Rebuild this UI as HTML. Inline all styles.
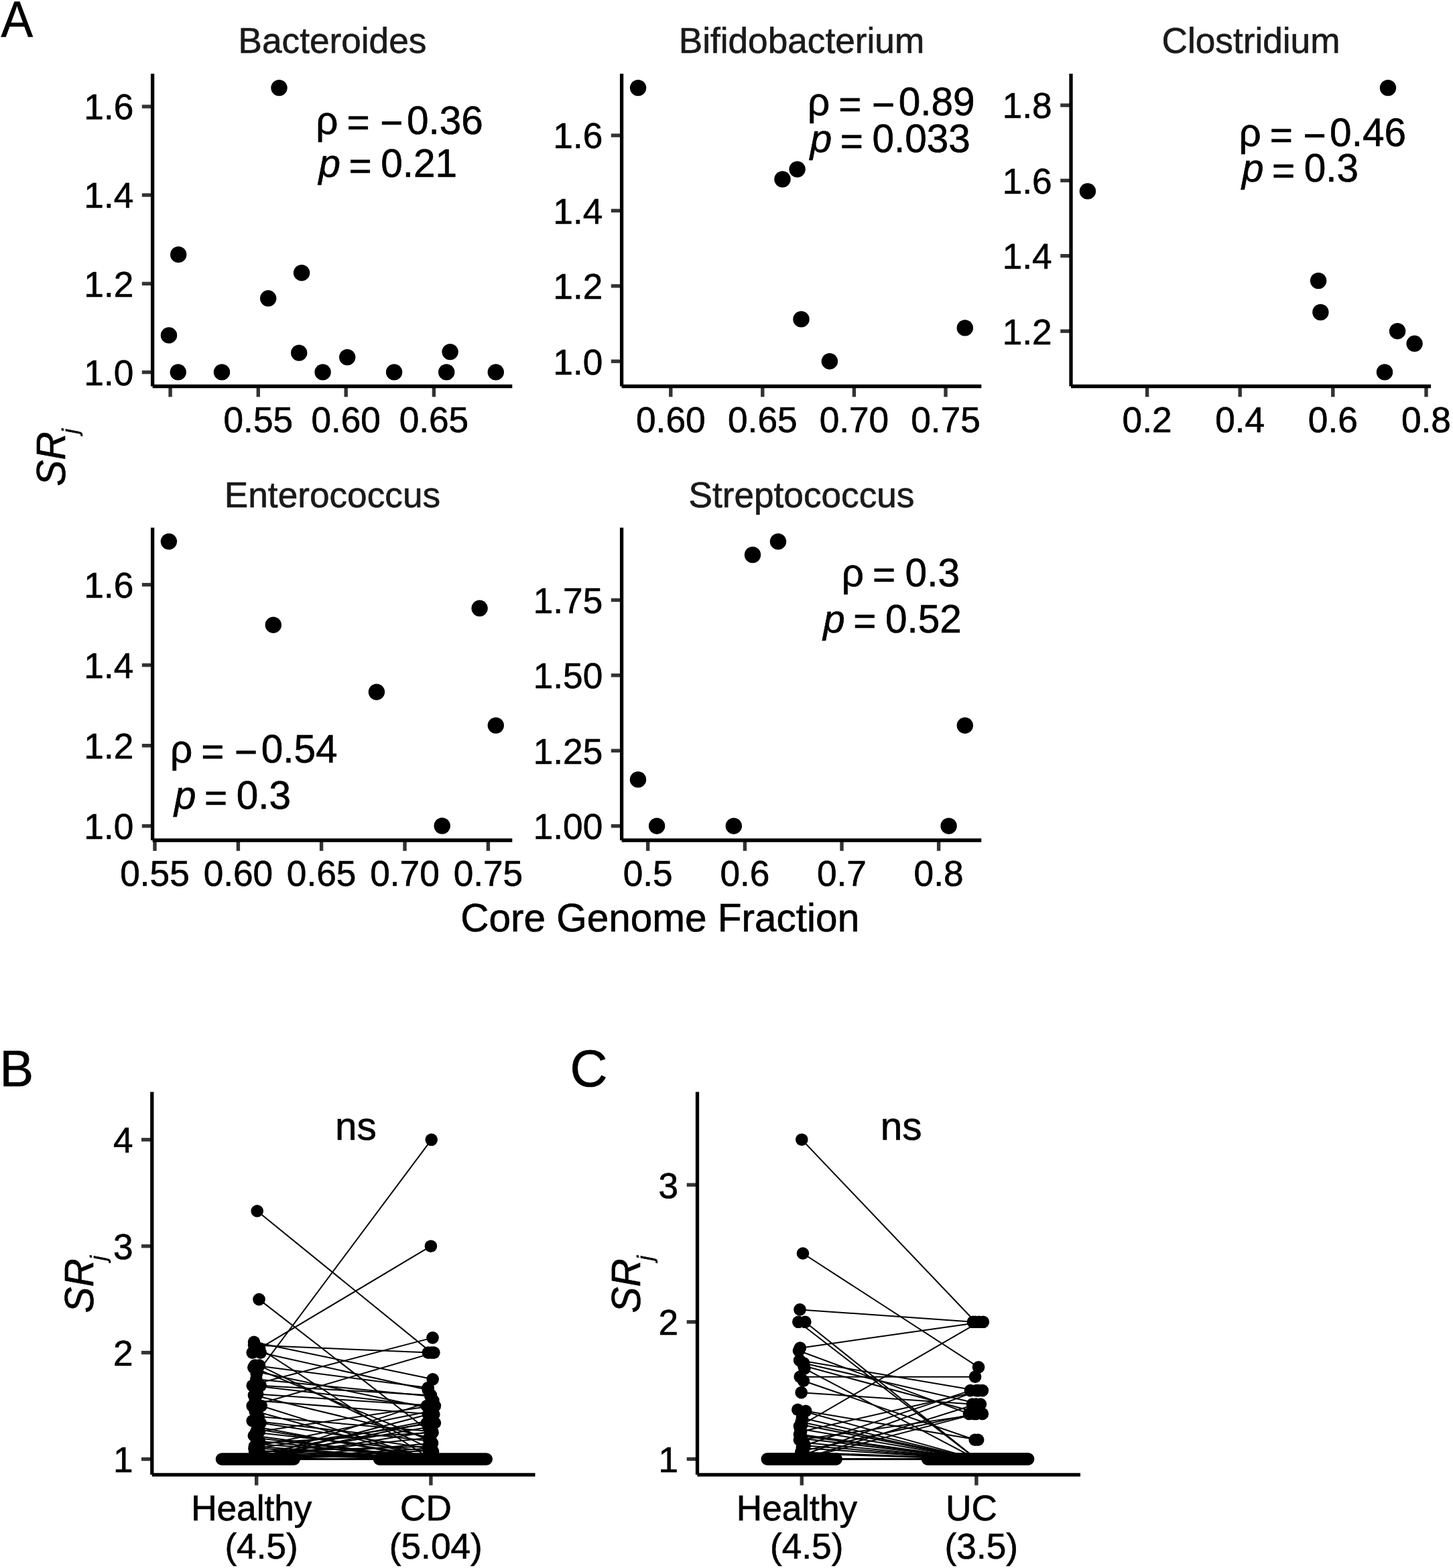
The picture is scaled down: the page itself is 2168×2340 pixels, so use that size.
<!DOCTYPE html>
<html><head><meta charset="utf-8"><title>Figure</title>
<style>
html,body{margin:0;padding:0;background:#fff;overflow:hidden;}
svg{display:block;}
text{font-family:"Liberation Sans", Arial, Helvetica, sans-serif;stroke-width:0.65px;}
</style></head>
<body>
<svg width="2168" height="2340" viewBox="0 0 2168 2340">
<rect width="2168" height="2340" fill="#fff"/>
<line x1="211.8" y1="555.5" x2="227.6" y2="555.5" stroke="#333333" stroke-width="5.4" stroke-linecap="butt"/>
<text x="199.3" y="574.8" font-size="53.2" text-anchor="end" fill="#000" stroke="#000">1.0</text>
<line x1="211.8" y1="423.3" x2="227.6" y2="423.3" stroke="#333333" stroke-width="5.4" stroke-linecap="butt"/>
<text x="199.3" y="442.6" font-size="53.2" text-anchor="end" fill="#000" stroke="#000">1.2</text>
<line x1="211.8" y1="291.1" x2="227.6" y2="291.1" stroke="#333333" stroke-width="5.4" stroke-linecap="butt"/>
<text x="199.3" y="310.4" font-size="53.2" text-anchor="end" fill="#000" stroke="#000">1.4</text>
<line x1="211.8" y1="159" x2="227.6" y2="159" stroke="#333333" stroke-width="5.4" stroke-linecap="butt"/>
<text x="199.3" y="178.3" font-size="53.2" text-anchor="end" fill="#000" stroke="#000">1.6</text>
<line x1="254.1" y1="576.5" x2="254.1" y2="592.3" stroke="#333333" stroke-width="5.4" stroke-linecap="butt"/>
<line x1="385.3" y1="576.5" x2="385.3" y2="592.3" stroke="#333333" stroke-width="5.4" stroke-linecap="butt"/>
<text x="385.3" y="644.5" font-size="53.2" text-anchor="middle" fill="#000" stroke="#000">0.55</text>
<line x1="516.2" y1="576.5" x2="516.2" y2="592.3" stroke="#333333" stroke-width="5.4" stroke-linecap="butt"/>
<text x="516.2" y="644.5" font-size="53.2" text-anchor="middle" fill="#000" stroke="#000">0.60</text>
<line x1="647.4" y1="576.5" x2="647.4" y2="592.3" stroke="#333333" stroke-width="5.4" stroke-linecap="butt"/>
<text x="647.4" y="644.5" font-size="53.2" text-anchor="middle" fill="#000" stroke="#000">0.65</text>
<line x1="227.6" y1="110" x2="227.6" y2="576.5" stroke="#000" stroke-width="5.3" stroke-linecap="butt"/>
<line x1="227.6" y1="576.5" x2="764.3" y2="576.5" stroke="#000" stroke-width="5.3" stroke-linecap="butt"/>
<text x="495.95" y="79.4" font-size="53.2" text-anchor="middle" fill="#1a1a1a" stroke="#1a1a1a">Bacteroides</text>
<circle cx="416.5" cy="131.1" r="12.2" fill="#000"/>
<circle cx="266.2" cy="379.9" r="12.2" fill="#000"/>
<circle cx="450.1" cy="407.2" r="12.2" fill="#000"/>
<circle cx="400.2" cy="445.3" r="12.2" fill="#000"/>
<circle cx="252" cy="500.4" r="12.2" fill="#000"/>
<circle cx="446.2" cy="526.6" r="12.2" fill="#000"/>
<circle cx="265.7" cy="555.4" r="12.2" fill="#000"/>
<circle cx="331" cy="555.4" r="12.2" fill="#000"/>
<circle cx="481.6" cy="555.4" r="12.2" fill="#000"/>
<circle cx="518.2" cy="533.1" r="12.2" fill="#000"/>
<circle cx="588.1" cy="555.4" r="12.2" fill="#000"/>
<circle cx="671.6" cy="525.1" r="12.2" fill="#000"/>
<circle cx="666.2" cy="555.4" r="12.2" fill="#000"/>
<circle cx="739.8" cy="555.4" r="12.2" fill="#000"/>
<text y="199.7" font-size="58.5" fill="#000" stroke="#000"><tspan x="471.3">ρ</tspan><tspan x="517.6" dy="3.2">=</tspan><tspan x="567.3">−</tspan><tspan x="607" dy="-3.2">0.36</tspan></text>
<text y="264" font-size="58.5" fill="#000" stroke="#000"><tspan x="475.6" font-style="italic">p</tspan><tspan x="520.6" dy="3.6">=</tspan><tspan x="568.3" dy="-3.6">0.21</tspan></text>
<line x1="911.8" y1="539.2" x2="927.6" y2="539.2" stroke="#333333" stroke-width="5.4" stroke-linecap="butt"/>
<text x="899.3" y="558.5" font-size="53.2" text-anchor="end" fill="#000" stroke="#000">1.0</text>
<line x1="911.8" y1="426.8" x2="927.6" y2="426.8" stroke="#333333" stroke-width="5.4" stroke-linecap="butt"/>
<text x="899.3" y="446.1" font-size="53.2" text-anchor="end" fill="#000" stroke="#000">1.2</text>
<line x1="911.8" y1="314.4" x2="927.6" y2="314.4" stroke="#333333" stroke-width="5.4" stroke-linecap="butt"/>
<text x="899.3" y="333.7" font-size="53.2" text-anchor="end" fill="#000" stroke="#000">1.4</text>
<line x1="911.8" y1="202.1" x2="927.6" y2="202.1" stroke="#333333" stroke-width="5.4" stroke-linecap="butt"/>
<text x="899.3" y="221.4" font-size="53.2" text-anchor="end" fill="#000" stroke="#000">1.6</text>
<line x1="1000.8" y1="576.5" x2="1000.8" y2="592.3" stroke="#333333" stroke-width="5.4" stroke-linecap="butt"/>
<text x="1000.8" y="644.5" font-size="53.2" text-anchor="middle" fill="#000" stroke="#000">0.60</text>
<line x1="1137.8" y1="576.5" x2="1137.8" y2="592.3" stroke="#333333" stroke-width="5.4" stroke-linecap="butt"/>
<text x="1137.8" y="644.5" font-size="53.2" text-anchor="middle" fill="#000" stroke="#000">0.65</text>
<line x1="1274.4" y1="576.5" x2="1274.4" y2="592.3" stroke="#333333" stroke-width="5.4" stroke-linecap="butt"/>
<text x="1274.4" y="644.5" font-size="53.2" text-anchor="middle" fill="#000" stroke="#000">0.70</text>
<line x1="1411" y1="576.5" x2="1411" y2="592.3" stroke="#333333" stroke-width="5.4" stroke-linecap="butt"/>
<text x="1411" y="644.5" font-size="53.2" text-anchor="middle" fill="#000" stroke="#000">0.75</text>
<line x1="927.6" y1="110" x2="927.6" y2="576.5" stroke="#000" stroke-width="5.3" stroke-linecap="butt"/>
<line x1="927.6" y1="576.5" x2="1464.3" y2="576.5" stroke="#000" stroke-width="5.3" stroke-linecap="butt"/>
<text x="1195.95" y="79.4" font-size="53.2" text-anchor="middle" fill="#1a1a1a" stroke="#1a1a1a">Bifidobacterium</text>
<circle cx="952.1" cy="131.1" r="12.2" fill="#000"/>
<circle cx="1167.5" cy="267.5" r="12.2" fill="#000"/>
<circle cx="1189.6" cy="252.6" r="12.2" fill="#000"/>
<circle cx="1195.5" cy="476.4" r="12.2" fill="#000"/>
<circle cx="1237.9" cy="539.2" r="12.2" fill="#000"/>
<circle cx="1439.8" cy="489.4" r="12.2" fill="#000"/>
<text y="172.3" font-size="58.5" fill="#000" stroke="#000"><tspan x="1205">ρ</tspan><tspan x="1251.3" dy="3.2">=</tspan><tspan x="1301">−</tspan><tspan x="1340.7" dy="-3.2">0.89</tspan></text>
<text y="227.4" font-size="58.5" fill="#000" stroke="#000"><tspan x="1208.8" font-style="italic">p</tspan><tspan x="1253.8" dy="3.6">=</tspan><tspan x="1301.5" dy="-3.6">0.033</tspan></text>
<line x1="1582.2" y1="494.2" x2="1598" y2="494.2" stroke="#333333" stroke-width="5.4" stroke-linecap="butt"/>
<text x="1569.7" y="513.5" font-size="53.2" text-anchor="end" fill="#000" stroke="#000">1.2</text>
<line x1="1582.2" y1="381.8" x2="1598" y2="381.8" stroke="#333333" stroke-width="5.4" stroke-linecap="butt"/>
<text x="1569.7" y="401.1" font-size="53.2" text-anchor="end" fill="#000" stroke="#000">1.4</text>
<line x1="1582.2" y1="269.4" x2="1598" y2="269.4" stroke="#333333" stroke-width="5.4" stroke-linecap="butt"/>
<text x="1569.7" y="288.7" font-size="53.2" text-anchor="end" fill="#000" stroke="#000">1.6</text>
<line x1="1582.2" y1="157.1" x2="1598" y2="157.1" stroke="#333333" stroke-width="5.4" stroke-linecap="butt"/>
<text x="1569.7" y="176.4" font-size="53.2" text-anchor="end" fill="#000" stroke="#000">1.8</text>
<line x1="1711.6" y1="576.5" x2="1711.6" y2="592.3" stroke="#333333" stroke-width="5.4" stroke-linecap="butt"/>
<text x="1711.6" y="644.5" font-size="53.2" text-anchor="middle" fill="#000" stroke="#000">0.2</text>
<line x1="1850.2" y1="576.5" x2="1850.2" y2="592.3" stroke="#333333" stroke-width="5.4" stroke-linecap="butt"/>
<text x="1850.2" y="644.5" font-size="53.2" text-anchor="middle" fill="#000" stroke="#000">0.4</text>
<line x1="1988.8" y1="576.5" x2="1988.8" y2="592.3" stroke="#333333" stroke-width="5.4" stroke-linecap="butt"/>
<text x="1988.8" y="644.5" font-size="53.2" text-anchor="middle" fill="#000" stroke="#000">0.6</text>
<line x1="2128" y1="576.5" x2="2128" y2="592.3" stroke="#333333" stroke-width="5.4" stroke-linecap="butt"/>
<text x="2128" y="644.5" font-size="53.2" text-anchor="middle" fill="#000" stroke="#000">0.8</text>
<line x1="1598" y1="110" x2="1598" y2="576.5" stroke="#000" stroke-width="5.3" stroke-linecap="butt"/>
<line x1="1598" y1="576.5" x2="2135" y2="576.5" stroke="#000" stroke-width="5.3" stroke-linecap="butt"/>
<text x="1866.5" y="79.4" font-size="53.2" text-anchor="middle" fill="#1a1a1a" stroke="#1a1a1a">Clostridium</text>
<circle cx="1622.9" cy="285.4" r="12.2" fill="#000"/>
<circle cx="2071" cy="131.1" r="12.2" fill="#000"/>
<circle cx="1967.1" cy="419" r="12.2" fill="#000"/>
<circle cx="1970.4" cy="466" r="12.2" fill="#000"/>
<circle cx="2085.1" cy="494.2" r="12.2" fill="#000"/>
<circle cx="2110.6" cy="512.8" r="12.2" fill="#000"/>
<circle cx="2066" cy="555.4" r="12.2" fill="#000"/>
<text y="218.3" font-size="58.5" fill="#000" stroke="#000"><tspan x="1848.4">ρ</tspan><tspan x="1894.7" dy="3.2">=</tspan><tspan x="1944.4">−</tspan><tspan x="1984.1" dy="-3.2">0.46</tspan></text>
<text y="271.3" font-size="58.5" fill="#000" stroke="#000"><tspan x="1853" font-style="italic">p</tspan><tspan x="1898" dy="3.6">=</tspan><tspan x="1945.7" dy="-3.6">0.3</tspan></text>
<line x1="211.8" y1="1232.7" x2="227.6" y2="1232.7" stroke="#333333" stroke-width="5.4" stroke-linecap="butt"/>
<text x="199.3" y="1252" font-size="53.2" text-anchor="end" fill="#000" stroke="#000">1.0</text>
<line x1="211.8" y1="1112.7" x2="227.6" y2="1112.7" stroke="#333333" stroke-width="5.4" stroke-linecap="butt"/>
<text x="199.3" y="1132" font-size="53.2" text-anchor="end" fill="#000" stroke="#000">1.2</text>
<line x1="211.8" y1="992.6" x2="227.6" y2="992.6" stroke="#333333" stroke-width="5.4" stroke-linecap="butt"/>
<text x="199.3" y="1011.9" font-size="53.2" text-anchor="end" fill="#000" stroke="#000">1.4</text>
<line x1="211.8" y1="872.6" x2="227.6" y2="872.6" stroke="#333333" stroke-width="5.4" stroke-linecap="butt"/>
<text x="199.3" y="891.9" font-size="53.2" text-anchor="end" fill="#000" stroke="#000">1.6</text>
<line x1="231" y1="1254" x2="231" y2="1269.8" stroke="#333333" stroke-width="5.4" stroke-linecap="butt"/>
<text x="231" y="1322" font-size="53.2" text-anchor="middle" fill="#000" stroke="#000">0.55</text>
<line x1="355.4" y1="1254" x2="355.4" y2="1269.8" stroke="#333333" stroke-width="5.4" stroke-linecap="butt"/>
<text x="355.4" y="1322" font-size="53.2" text-anchor="middle" fill="#000" stroke="#000">0.60</text>
<line x1="479.6" y1="1254" x2="479.6" y2="1269.8" stroke="#333333" stroke-width="5.4" stroke-linecap="butt"/>
<text x="479.6" y="1322" font-size="53.2" text-anchor="middle" fill="#000" stroke="#000">0.65</text>
<line x1="604" y1="1254" x2="604" y2="1269.8" stroke="#333333" stroke-width="5.4" stroke-linecap="butt"/>
<text x="604" y="1322" font-size="53.2" text-anchor="middle" fill="#000" stroke="#000">0.70</text>
<line x1="728.4" y1="1254" x2="728.4" y2="1269.8" stroke="#333333" stroke-width="5.4" stroke-linecap="butt"/>
<text x="728.4" y="1322" font-size="53.2" text-anchor="middle" fill="#000" stroke="#000">0.75</text>
<line x1="227.6" y1="787.5" x2="227.6" y2="1254" stroke="#000" stroke-width="5.3" stroke-linecap="butt"/>
<line x1="227.6" y1="1254" x2="764.3" y2="1254" stroke="#000" stroke-width="5.3" stroke-linecap="butt"/>
<text x="495.95" y="757" font-size="53.2" text-anchor="middle" fill="#1a1a1a" stroke="#1a1a1a">Enterococcus</text>
<circle cx="251.9" cy="808.1" r="12.2" fill="#000"/>
<circle cx="407.8" cy="932.7" r="12.2" fill="#000"/>
<circle cx="715.6" cy="907.8" r="12.2" fill="#000"/>
<circle cx="561.9" cy="1032.7" r="12.2" fill="#000"/>
<circle cx="739.8" cy="1082.6" r="12.2" fill="#000"/>
<circle cx="659.7" cy="1232.5" r="12.2" fill="#000"/>
<text y="1138.4" font-size="58.5" fill="#000" stroke="#000"><tspan x="254">ρ</tspan><tspan x="300.3" dy="3.2">=</tspan><tspan x="350">−</tspan><tspan x="389.7" dy="-3.2">0.54</tspan></text>
<text y="1207.2" font-size="58.5" fill="#000" stroke="#000"><tspan x="260.1" font-style="italic">p</tspan><tspan x="305.1" dy="3.6">=</tspan><tspan x="352.8" dy="-3.6">0.3</tspan></text>
<line x1="911.8" y1="1232.7" x2="927.6" y2="1232.7" stroke="#333333" stroke-width="5.4" stroke-linecap="butt"/>
<text x="899.3" y="1252" font-size="53.2" text-anchor="end" fill="#000" stroke="#000">1.00</text>
<line x1="911.8" y1="1120.3" x2="927.6" y2="1120.3" stroke="#333333" stroke-width="5.4" stroke-linecap="butt"/>
<text x="899.3" y="1139.6" font-size="53.2" text-anchor="end" fill="#000" stroke="#000">1.25</text>
<line x1="911.8" y1="1007.8" x2="927.6" y2="1007.8" stroke="#333333" stroke-width="5.4" stroke-linecap="butt"/>
<text x="899.3" y="1027.1" font-size="53.2" text-anchor="end" fill="#000" stroke="#000">1.50</text>
<line x1="911.8" y1="895.5" x2="927.6" y2="895.5" stroke="#333333" stroke-width="5.4" stroke-linecap="butt"/>
<text x="899.3" y="914.8" font-size="53.2" text-anchor="end" fill="#000" stroke="#000">1.75</text>
<line x1="966.7" y1="1254" x2="966.7" y2="1269.8" stroke="#333333" stroke-width="5.4" stroke-linecap="butt"/>
<text x="966.7" y="1322" font-size="53.2" text-anchor="middle" fill="#000" stroke="#000">0.5</text>
<line x1="1111.4" y1="1254" x2="1111.4" y2="1269.8" stroke="#333333" stroke-width="5.4" stroke-linecap="butt"/>
<text x="1111.4" y="1322" font-size="53.2" text-anchor="middle" fill="#000" stroke="#000">0.6</text>
<line x1="1256" y1="1254" x2="1256" y2="1269.8" stroke="#333333" stroke-width="5.4" stroke-linecap="butt"/>
<text x="1256" y="1322" font-size="53.2" text-anchor="middle" fill="#000" stroke="#000">0.7</text>
<line x1="1400.6" y1="1254" x2="1400.6" y2="1269.8" stroke="#333333" stroke-width="5.4" stroke-linecap="butt"/>
<text x="1400.6" y="1322" font-size="53.2" text-anchor="middle" fill="#000" stroke="#000">0.8</text>
<line x1="927.6" y1="787.5" x2="927.6" y2="1254" stroke="#000" stroke-width="5.3" stroke-linecap="butt"/>
<line x1="927.6" y1="1254" x2="1464.3" y2="1254" stroke="#000" stroke-width="5.3" stroke-linecap="butt"/>
<text x="1195.95" y="757" font-size="53.2" text-anchor="middle" fill="#1a1a1a" stroke="#1a1a1a">Streptococcus</text>
<circle cx="1123" cy="828" r="12.2" fill="#000"/>
<circle cx="1161" cy="808.2" r="12.2" fill="#000"/>
<circle cx="952" cy="1163.4" r="12.2" fill="#000"/>
<circle cx="980.1" cy="1232.7" r="12.2" fill="#000"/>
<circle cx="1094.8" cy="1232.7" r="12.2" fill="#000"/>
<circle cx="1415.6" cy="1232.7" r="12.2" fill="#000"/>
<circle cx="1439.8" cy="1082.7" r="12.2" fill="#000"/>
<text y="874.5" font-size="58.5" fill="#000" stroke="#000"><tspan x="1255.7">ρ</tspan><tspan x="1302" dy="3.2">=</tspan><tspan x="1350.6" dy="-3.2">0.3</tspan></text>
<text y="943.5" font-size="58.5" fill="#000" stroke="#000"><tspan x="1228.3" font-style="italic">p</tspan><tspan x="1273.3" dy="3.6">=</tspan><tspan x="1321" dy="-3.6">0.52</tspan></text>
<text x="984.7" y="1390" font-size="58.5" text-anchor="middle" fill="#000" stroke="#000">Core Genome Fraction</text>
<text transform="translate(97.3,682.8) rotate(-90) scale(0.965,1)" x="0" y="0" font-size="60.5" font-style="italic" text-anchor="middle" fill="#000" stroke="#000">SR<tspan font-size="33.93" dx="-3" dy="18.6">j</tspan></text>
<text transform="translate(1.6,55.2) scale(0.94,1)" x="0" y="0" font-size="76" fill="#000" stroke="#000">A</text>
<text x="-0.5" y="1621" font-size="76" text-anchor="start" fill="#000" stroke="#000">B</text>
<text x="850.5" y="1621" font-size="77.5" text-anchor="start" fill="#000" stroke="#000">C</text>
<line x1="383.7" y1="1807.26" x2="643.9" y2="2018.6" stroke="#000" stroke-width="2" stroke-linecap="butt"/>
<line x1="386.52" y1="1939.15" x2="642.59" y2="2137.78" stroke="#000" stroke-width="2" stroke-linecap="butt"/>
<line x1="382.77" y1="2050.38" x2="643.69" y2="1700.8" stroke="#000" stroke-width="2" stroke-linecap="butt"/>
<line x1="376.7" y1="2018.6" x2="642.9" y2="1859.7" stroke="#000" stroke-width="2" stroke-linecap="butt"/>
<line x1="383.87" y1="2064.68" x2="645.54" y2="1996.35" stroke="#000" stroke-width="2" stroke-linecap="butt"/>
<line x1="379.05" y1="2007.48" x2="638.9" y2="2018.6" stroke="#000" stroke-width="2" stroke-linecap="butt"/>
<line x1="379.02" y1="2002.71" x2="645.69" y2="2058.32" stroke="#000" stroke-width="2" stroke-linecap="butt"/>
<line x1="388.7" y1="2018.6" x2="638.78" y2="2074.22" stroke="#000" stroke-width="2" stroke-linecap="butt"/>
<line x1="387.04" y1="2012.24" x2="642.9" y2="2177.5" stroke="#000" stroke-width="2" stroke-linecap="butt"/>
<line x1="386.88" y1="2037.67" x2="644.29" y2="2163.2" stroke="#000" stroke-width="2" stroke-linecap="butt"/>
<line x1="383.74" y1="2047.2" x2="639.82" y2="2101.23" stroke="#000" stroke-width="2" stroke-linecap="butt"/>
<line x1="378.34" y1="2040.85" x2="643.16" y2="2150.49" stroke="#000" stroke-width="2" stroke-linecap="butt"/>
<line x1="376.7" y1="2098.05" x2="647.4" y2="2018.6" stroke="#000" stroke-width="2" stroke-linecap="butt"/>
<line x1="380.38" y1="2037.67" x2="638.67" y2="2071.04" stroke="#000" stroke-width="2" stroke-linecap="butt"/>
<line x1="382.38" y1="2058.32" x2="642.36" y2="2083.75" stroke="#000" stroke-width="2" stroke-linecap="butt"/>
<line x1="376.7" y1="2067.86" x2="636.9" y2="2098.05" stroke="#000" stroke-width="2" stroke-linecap="butt"/>
<line x1="388.7" y1="2067.86" x2="642.9" y2="2082.16" stroke="#000" stroke-width="2" stroke-linecap="butt"/>
<line x1="384.16" y1="2080.57" x2="648.9" y2="2098.05" stroke="#000" stroke-width="2" stroke-linecap="butt"/>
<line x1="380.7" y1="2090.11" x2="647.38" y2="2110.76" stroke="#000" stroke-width="2" stroke-linecap="butt"/>
<line x1="389.7" y1="2098.05" x2="642.9" y2="2177.5" stroke="#000" stroke-width="2" stroke-linecap="butt"/>
<line x1="385.76" y1="2113.94" x2="644.77" y2="2136.19" stroke="#000" stroke-width="2" stroke-linecap="butt"/>
<line x1="376.7" y1="2120.3" x2="640.47" y2="2150.49" stroke="#000" stroke-width="2" stroke-linecap="butt"/>
<line x1="388.7" y1="2123.47" x2="639.03" y2="2161.61" stroke="#000" stroke-width="2" stroke-linecap="butt"/>
<line x1="385.1" y1="2129.83" x2="642.9" y2="2177.5" stroke="#000" stroke-width="2" stroke-linecap="butt"/>
<line x1="381.8" y1="2137.78" x2="646.02" y2="2166.38" stroke="#000" stroke-width="2" stroke-linecap="butt"/>
<line x1="381.68" y1="2145.72" x2="642.9" y2="2177.5" stroke="#000" stroke-width="2" stroke-linecap="butt"/>
<line x1="386.82" y1="2150.49" x2="642.9" y2="2177.5" stroke="#000" stroke-width="2" stroke-linecap="butt"/>
<line x1="385.83" y1="2155.25" x2="638.4" y2="2172.73" stroke="#000" stroke-width="2" stroke-linecap="butt"/>
<line x1="380.09" y1="2158.43" x2="642.9" y2="2177.5" stroke="#000" stroke-width="2" stroke-linecap="butt"/>
<line x1="386.39" y1="2161.61" x2="642.9" y2="2177.5" stroke="#000" stroke-width="2" stroke-linecap="butt"/>
<line x1="382.43" y1="2164.79" x2="642.9" y2="2177.5" stroke="#000" stroke-width="2" stroke-linecap="butt"/>
<line x1="387.02" y1="2167.97" x2="642.9" y2="2177.5" stroke="#000" stroke-width="2" stroke-linecap="butt"/>
<line x1="381.78" y1="2171.14" x2="642.9" y2="2177.5" stroke="#000" stroke-width="2" stroke-linecap="butt"/>
<line x1="378.86" y1="2142.54" x2="642.9" y2="2177.5" stroke="#000" stroke-width="2" stroke-linecap="butt"/>
<line x1="383.87" y1="2133.01" x2="645.41" y2="2174.32" stroke="#000" stroke-width="2" stroke-linecap="butt"/>
<line x1="380.63" y1="2105.99" x2="642.9" y2="2177.5" stroke="#000" stroke-width="2" stroke-linecap="butt"/>
<line x1="378.98" y1="2082.16" x2="641.39" y2="2145.72" stroke="#000" stroke-width="2" stroke-linecap="butt"/>
<line x1="386.88" y1="2136.19" x2="645.22" y2="2098.05" stroke="#000" stroke-width="2" stroke-linecap="butt"/>
<line x1="382.7" y1="2177.5" x2="636.9" y2="2123.47" stroke="#000" stroke-width="2" stroke-linecap="butt"/>
<line x1="380.42" y1="2174.32" x2="639.31" y2="2129.83" stroke="#000" stroke-width="2" stroke-linecap="butt"/>
<line x1="382.7" y1="2177.5" x2="638.94" y2="2110.76" stroke="#000" stroke-width="2" stroke-linecap="butt"/>
<line x1="385.37" y1="2169.55" x2="640" y2="2120.3" stroke="#000" stroke-width="2" stroke-linecap="butt"/>
<line x1="382.7" y1="2177.5" x2="643.43" y2="2136.19" stroke="#000" stroke-width="2" stroke-linecap="butt"/>
<line x1="382.23" y1="2172.73" x2="640.12" y2="2145.72" stroke="#000" stroke-width="2" stroke-linecap="butt"/>
<line x1="382.7" y1="2177.5" x2="644.99" y2="2153.66" stroke="#000" stroke-width="2" stroke-linecap="butt"/>
<line x1="379.38" y1="2161.61" x2="648.9" y2="2123.47" stroke="#000" stroke-width="2" stroke-linecap="butt"/>
<line x1="382.7" y1="2177.5" x2="639.45" y2="2161.61" stroke="#000" stroke-width="2" stroke-linecap="butt"/>
<line x1="382.7" y1="2177.5" x2="642.19" y2="2164.79" stroke="#000" stroke-width="2" stroke-linecap="butt"/>
<line x1="380.12" y1="2166.38" x2="640.83" y2="2158.43" stroke="#000" stroke-width="2" stroke-linecap="butt"/>
<line x1="386.94" y1="2153.66" x2="645.63" y2="2137.78" stroke="#000" stroke-width="2" stroke-linecap="butt"/>
<line x1="382.7" y1="2177.5" x2="641.14" y2="2169.55" stroke="#000" stroke-width="2" stroke-linecap="butt"/>
<line x1="382.7" y1="2177.5" x2="646.36" y2="2090.11" stroke="#000" stroke-width="2" stroke-linecap="butt"/>
<line x1="380.1" y1="2158.43" x2="641.95" y2="2105.99" stroke="#000" stroke-width="2" stroke-linecap="butt"/>
<line x1="382.7" y1="2177.5" x2="642.9" y2="2177.5" stroke="#000" stroke-width="2" stroke-linecap="butt"/>
<line x1="382.7" y1="2177.5" x2="642.9" y2="2177.5" stroke="#000" stroke-width="2" stroke-linecap="butt"/>
<line x1="382.7" y1="2177.5" x2="642.9" y2="2177.5" stroke="#000" stroke-width="2" stroke-linecap="butt"/>
<line x1="382.7" y1="2177.5" x2="642.9" y2="2177.5" stroke="#000" stroke-width="2" stroke-linecap="butt"/>
<line x1="382.7" y1="2177.5" x2="642.9" y2="2177.5" stroke="#000" stroke-width="2" stroke-linecap="butt"/>
<line x1="382.7" y1="2177.5" x2="642.9" y2="2177.5" stroke="#000" stroke-width="2" stroke-linecap="butt"/>
<line x1="382.7" y1="2177.5" x2="642.9" y2="2177.5" stroke="#000" stroke-width="2" stroke-linecap="butt"/>
<line x1="382.7" y1="2177.5" x2="642.9" y2="2177.5" stroke="#000" stroke-width="2" stroke-linecap="butt"/>
<line x1="382.7" y1="2177.5" x2="642.9" y2="2177.5" stroke="#000" stroke-width="2" stroke-linecap="butt"/>
<line x1="382.7" y1="2177.5" x2="642.9" y2="2177.5" stroke="#000" stroke-width="2" stroke-linecap="butt"/>
<line x1="331" y1="2177.5" x2="438.7" y2="2177.5" stroke="#000" stroke-width="18.6" stroke-linecap="round"/>
<line x1="566.1" y1="2177.5" x2="725.7" y2="2177.5" stroke="#000" stroke-width="18.6" stroke-linecap="round"/>
<circle cx="383.7" cy="1807.26" r="9.3" fill="#000"/>
<circle cx="643.9" cy="2018.6" r="9.3" fill="#000"/>
<circle cx="386.52" cy="1939.15" r="9.3" fill="#000"/>
<circle cx="642.59" cy="2137.78" r="9.3" fill="#000"/>
<circle cx="382.77" cy="2050.38" r="9.3" fill="#000"/>
<circle cx="643.69" cy="1700.8" r="9.3" fill="#000"/>
<circle cx="376.7" cy="2018.6" r="9.3" fill="#000"/>
<circle cx="642.9" cy="1859.7" r="9.3" fill="#000"/>
<circle cx="383.87" cy="2064.68" r="9.3" fill="#000"/>
<circle cx="645.54" cy="1996.35" r="9.3" fill="#000"/>
<circle cx="379.05" cy="2007.48" r="9.3" fill="#000"/>
<circle cx="638.9" cy="2018.6" r="9.3" fill="#000"/>
<circle cx="379.02" cy="2002.71" r="9.3" fill="#000"/>
<circle cx="645.69" cy="2058.32" r="9.3" fill="#000"/>
<circle cx="388.7" cy="2018.6" r="9.3" fill="#000"/>
<circle cx="638.78" cy="2074.22" r="9.3" fill="#000"/>
<circle cx="387.04" cy="2012.24" r="9.3" fill="#000"/>
<circle cx="386.88" cy="2037.67" r="9.3" fill="#000"/>
<circle cx="644.29" cy="2163.2" r="9.3" fill="#000"/>
<circle cx="383.74" cy="2047.2" r="9.3" fill="#000"/>
<circle cx="639.82" cy="2101.23" r="9.3" fill="#000"/>
<circle cx="378.34" cy="2040.85" r="9.3" fill="#000"/>
<circle cx="643.16" cy="2150.49" r="9.3" fill="#000"/>
<circle cx="376.7" cy="2098.05" r="9.3" fill="#000"/>
<circle cx="647.4" cy="2018.6" r="9.3" fill="#000"/>
<circle cx="380.38" cy="2037.67" r="9.3" fill="#000"/>
<circle cx="638.67" cy="2071.04" r="9.3" fill="#000"/>
<circle cx="382.38" cy="2058.32" r="9.3" fill="#000"/>
<circle cx="642.36" cy="2083.75" r="9.3" fill="#000"/>
<circle cx="376.7" cy="2067.86" r="9.3" fill="#000"/>
<circle cx="636.9" cy="2098.05" r="9.3" fill="#000"/>
<circle cx="388.7" cy="2067.86" r="9.3" fill="#000"/>
<circle cx="642.9" cy="2082.16" r="9.3" fill="#000"/>
<circle cx="384.16" cy="2080.57" r="9.3" fill="#000"/>
<circle cx="648.9" cy="2098.05" r="9.3" fill="#000"/>
<circle cx="380.7" cy="2090.11" r="9.3" fill="#000"/>
<circle cx="647.38" cy="2110.76" r="9.3" fill="#000"/>
<circle cx="389.7" cy="2098.05" r="9.3" fill="#000"/>
<circle cx="385.76" cy="2113.94" r="9.3" fill="#000"/>
<circle cx="644.77" cy="2136.19" r="9.3" fill="#000"/>
<circle cx="376.7" cy="2120.3" r="9.3" fill="#000"/>
<circle cx="640.47" cy="2150.49" r="9.3" fill="#000"/>
<circle cx="388.7" cy="2123.47" r="9.3" fill="#000"/>
<circle cx="639.03" cy="2161.61" r="9.3" fill="#000"/>
<circle cx="385.1" cy="2129.83" r="9.3" fill="#000"/>
<circle cx="381.8" cy="2137.78" r="9.3" fill="#000"/>
<circle cx="646.02" cy="2166.38" r="9.3" fill="#000"/>
<circle cx="381.68" cy="2145.72" r="9.3" fill="#000"/>
<circle cx="386.82" cy="2150.49" r="9.3" fill="#000"/>
<circle cx="385.83" cy="2155.25" r="9.3" fill="#000"/>
<circle cx="638.4" cy="2172.73" r="9.3" fill="#000"/>
<circle cx="380.09" cy="2158.43" r="9.3" fill="#000"/>
<circle cx="386.39" cy="2161.61" r="9.3" fill="#000"/>
<circle cx="382.43" cy="2164.79" r="9.3" fill="#000"/>
<circle cx="387.02" cy="2167.97" r="9.3" fill="#000"/>
<circle cx="381.78" cy="2171.14" r="9.3" fill="#000"/>
<circle cx="378.86" cy="2142.54" r="9.3" fill="#000"/>
<circle cx="383.87" cy="2133.01" r="9.3" fill="#000"/>
<circle cx="645.41" cy="2174.32" r="9.3" fill="#000"/>
<circle cx="380.63" cy="2105.99" r="9.3" fill="#000"/>
<circle cx="378.98" cy="2082.16" r="9.3" fill="#000"/>
<circle cx="641.39" cy="2145.72" r="9.3" fill="#000"/>
<circle cx="386.88" cy="2136.19" r="9.3" fill="#000"/>
<circle cx="645.22" cy="2098.05" r="9.3" fill="#000"/>
<circle cx="636.9" cy="2123.47" r="9.3" fill="#000"/>
<circle cx="380.42" cy="2174.32" r="9.3" fill="#000"/>
<circle cx="639.31" cy="2129.83" r="9.3" fill="#000"/>
<circle cx="638.94" cy="2110.76" r="9.3" fill="#000"/>
<circle cx="385.37" cy="2169.55" r="9.3" fill="#000"/>
<circle cx="640" cy="2120.3" r="9.3" fill="#000"/>
<circle cx="643.43" cy="2136.19" r="9.3" fill="#000"/>
<circle cx="382.23" cy="2172.73" r="9.3" fill="#000"/>
<circle cx="640.12" cy="2145.72" r="9.3" fill="#000"/>
<circle cx="644.99" cy="2153.66" r="9.3" fill="#000"/>
<circle cx="379.38" cy="2161.61" r="9.3" fill="#000"/>
<circle cx="648.9" cy="2123.47" r="9.3" fill="#000"/>
<circle cx="639.45" cy="2161.61" r="9.3" fill="#000"/>
<circle cx="642.19" cy="2164.79" r="9.3" fill="#000"/>
<circle cx="380.12" cy="2166.38" r="9.3" fill="#000"/>
<circle cx="640.83" cy="2158.43" r="9.3" fill="#000"/>
<circle cx="386.94" cy="2153.66" r="9.3" fill="#000"/>
<circle cx="645.63" cy="2137.78" r="9.3" fill="#000"/>
<circle cx="641.14" cy="2169.55" r="9.3" fill="#000"/>
<circle cx="646.36" cy="2090.11" r="9.3" fill="#000"/>
<circle cx="380.1" cy="2158.43" r="9.3" fill="#000"/>
<circle cx="641.95" cy="2105.99" r="9.3" fill="#000"/>
<line x1="211" y1="2177.5" x2="226.8" y2="2177.5" stroke="#333333" stroke-width="5.4" stroke-linecap="butt"/>
<text x="198.5" y="2196.8" font-size="53.2" text-anchor="end" fill="#000" stroke="#000">1</text>
<line x1="211" y1="2018.6" x2="226.8" y2="2018.6" stroke="#333333" stroke-width="5.4" stroke-linecap="butt"/>
<text x="198.5" y="2037.9" font-size="53.2" text-anchor="end" fill="#000" stroke="#000">2</text>
<line x1="211" y1="1859.7" x2="226.8" y2="1859.7" stroke="#333333" stroke-width="5.4" stroke-linecap="butt"/>
<text x="198.5" y="1879" font-size="53.2" text-anchor="end" fill="#000" stroke="#000">3</text>
<line x1="211" y1="1700.8" x2="226.8" y2="1700.8" stroke="#333333" stroke-width="5.4" stroke-linecap="butt"/>
<text x="198.5" y="1720.1" font-size="53.2" text-anchor="end" fill="#000" stroke="#000">4</text>
<line x1="382.7" y1="2200.8" x2="382.7" y2="2216.6" stroke="#333333" stroke-width="5.4" stroke-linecap="butt"/>
<line x1="642.9" y1="2200.8" x2="642.9" y2="2216.6" stroke="#333333" stroke-width="5.4" stroke-linecap="butt"/>
<line x1="226.8" y1="1629.4" x2="226.8" y2="2200.8" stroke="#000" stroke-width="5.3" stroke-linecap="butt"/>
<line x1="226.8" y1="2200.8" x2="798.5" y2="2200.8" stroke="#000" stroke-width="5.3" stroke-linecap="butt"/>
<text x="375.3" y="2268.6" font-size="53.2" text-anchor="middle" fill="#000" stroke="#000">Healthy</text>
<text x="390.1" y="2325.9" font-size="53.2" text-anchor="middle" fill="#000" stroke="#000">(4.5)</text>
<text x="635.5" y="2268.6" font-size="53.2" text-anchor="middle" fill="#000" stroke="#000">CD</text>
<text x="650.3" y="2325.9" font-size="53.2" text-anchor="middle" fill="#000" stroke="#000">(5.04)</text>
<text x="530.8" y="1701.3" font-size="58.5" text-anchor="middle" fill="#000" stroke="#000">ns</text>
<text transform="translate(139.4,1916.8) rotate(-90) scale(0.965,1)" x="0" y="0" font-size="60.5" font-style="italic" text-anchor="middle" fill="#000" stroke="#000">SR<tspan font-size="33.93" dx="-3" dy="18.6">j</tspan></text>
<line x1="1196.3" y1="1700.68" x2="1455.4" y2="1972.8" stroke="#000" stroke-width="2" stroke-linecap="butt"/>
<line x1="1197.96" y1="1870.5" x2="1460.04" y2="2040.32" stroke="#000" stroke-width="2" stroke-linecap="butt"/>
<line x1="1193.47" y1="1954.39" x2="1451.9" y2="1972.8" stroke="#000" stroke-width="2" stroke-linecap="butt"/>
<line x1="1191.3" y1="1972.8" x2="1456.9" y2="2177.4" stroke="#000" stroke-width="2" stroke-linecap="butt"/>
<line x1="1193.83" y1="2011.67" x2="1466.9" y2="1972.8" stroke="#000" stroke-width="2" stroke-linecap="butt"/>
<line x1="1192.97" y1="2128.3" x2="1460.9" y2="1972.8" stroke="#000" stroke-width="2" stroke-linecap="butt"/>
<line x1="1193.73" y1="2054.64" x2="1455.05" y2="2054.64" stroke="#000" stroke-width="2" stroke-linecap="butt"/>
<line x1="1195.68" y1="2078.17" x2="1450.9" y2="2095.56" stroke="#000" stroke-width="2" stroke-linecap="butt"/>
<line x1="1201.3" y1="1972.8" x2="1456.9" y2="2177.4" stroke="#000" stroke-width="2" stroke-linecap="butt"/>
<line x1="1191.93" y1="2015.77" x2="1445.9" y2="2109.88" stroke="#000" stroke-width="2" stroke-linecap="butt"/>
<line x1="1193.12" y1="2030.09" x2="1456.9" y2="2075.1" stroke="#000" stroke-width="2" stroke-linecap="butt"/>
<line x1="1199.09" y1="2034.18" x2="1462.9" y2="2095.56" stroke="#000" stroke-width="2" stroke-linecap="butt"/>
<line x1="1199.24" y1="2038.27" x2="1456.9" y2="2107.84" stroke="#000" stroke-width="2" stroke-linecap="butt"/>
<line x1="1200.34" y1="2042.36" x2="1456.9" y2="2177.4" stroke="#000" stroke-width="2" stroke-linecap="butt"/>
<line x1="1198.94" y1="2060.78" x2="1454.71" y2="2148.76" stroke="#000" stroke-width="2" stroke-linecap="butt"/>
<line x1="1190.3" y1="2103.74" x2="1456.9" y2="2177.4" stroke="#000" stroke-width="2" stroke-linecap="butt"/>
<line x1="1202.3" y1="2105.79" x2="1459.2" y2="2148.76" stroke="#000" stroke-width="2" stroke-linecap="butt"/>
<line x1="1196.88" y1="2116.02" x2="1456.9" y2="2177.4" stroke="#000" stroke-width="2" stroke-linecap="butt"/>
<line x1="1195.67" y1="2122.16" x2="1456.9" y2="2177.4" stroke="#000" stroke-width="2" stroke-linecap="butt"/>
<line x1="1195.08" y1="2136.48" x2="1465.9" y2="2075.1" stroke="#000" stroke-width="2" stroke-linecap="butt"/>
<line x1="1194.62" y1="2142.62" x2="1456.9" y2="2177.4" stroke="#000" stroke-width="2" stroke-linecap="butt"/>
<line x1="1192.86" y1="2148.76" x2="1465.9" y2="2109.88" stroke="#000" stroke-width="2" stroke-linecap="butt"/>
<line x1="1198.98" y1="2152.85" x2="1456.9" y2="2177.4" stroke="#000" stroke-width="2" stroke-linecap="butt"/>
<line x1="1200.67" y1="2156.94" x2="1447.9" y2="2075.1" stroke="#000" stroke-width="2" stroke-linecap="butt"/>
<line x1="1196.79" y1="2161.03" x2="1456.9" y2="2177.4" stroke="#000" stroke-width="2" stroke-linecap="butt"/>
<line x1="1198.54" y1="2165.12" x2="1453.61" y2="2109.88" stroke="#000" stroke-width="2" stroke-linecap="butt"/>
<line x1="1197.89" y1="2169.22" x2="1456.9" y2="2177.4" stroke="#000" stroke-width="2" stroke-linecap="butt"/>
<line x1="1196.3" y1="2177.4" x2="1456.39" y2="2095.56" stroke="#000" stroke-width="2" stroke-linecap="butt"/>
<line x1="1193.39" y1="2173.31" x2="1459.9" y2="2075.1" stroke="#000" stroke-width="2" stroke-linecap="butt"/>
<line x1="1196.5" y1="2146.71" x2="1456.9" y2="2177.4" stroke="#000" stroke-width="2" stroke-linecap="butt"/>
<line x1="1194.08" y1="2132.39" x2="1456.9" y2="2177.4" stroke="#000" stroke-width="2" stroke-linecap="butt"/>
<line x1="1196.3" y1="2177.4" x2="1456.54" y2="2109.88" stroke="#000" stroke-width="2" stroke-linecap="butt"/>
<line x1="1197.25" y1="2156.94" x2="1456.9" y2="2177.4" stroke="#000" stroke-width="2" stroke-linecap="butt"/>
<line x1="1195.36" y1="2167.17" x2="1456.9" y2="2177.4" stroke="#000" stroke-width="2" stroke-linecap="butt"/>
<line x1="1192.98" y1="2140.57" x2="1456.9" y2="2177.4" stroke="#000" stroke-width="2" stroke-linecap="butt"/>
<line x1="1196.22" y1="2126.25" x2="1456.9" y2="2177.4" stroke="#000" stroke-width="2" stroke-linecap="butt"/>
<line x1="1196.3" y1="2177.4" x2="1456.9" y2="2177.4" stroke="#000" stroke-width="2" stroke-linecap="butt"/>
<line x1="1196.3" y1="2177.4" x2="1456.9" y2="2177.4" stroke="#000" stroke-width="2" stroke-linecap="butt"/>
<line x1="1196.3" y1="2177.4" x2="1456.9" y2="2177.4" stroke="#000" stroke-width="2" stroke-linecap="butt"/>
<line x1="1196.3" y1="2177.4" x2="1456.9" y2="2177.4" stroke="#000" stroke-width="2" stroke-linecap="butt"/>
<line x1="1196.3" y1="2177.4" x2="1456.9" y2="2177.4" stroke="#000" stroke-width="2" stroke-linecap="butt"/>
<line x1="1196.3" y1="2177.4" x2="1456.9" y2="2177.4" stroke="#000" stroke-width="2" stroke-linecap="butt"/>
<line x1="1196.3" y1="2177.4" x2="1456.9" y2="2177.4" stroke="#000" stroke-width="2" stroke-linecap="butt"/>
<line x1="1196.3" y1="2177.4" x2="1456.9" y2="2177.4" stroke="#000" stroke-width="2" stroke-linecap="butt"/>
<line x1="1144.8" y1="2177.4" x2="1247.6" y2="2177.4" stroke="#000" stroke-width="18.6" stroke-linecap="round"/>
<line x1="1384.1" y1="2177.4" x2="1534" y2="2177.4" stroke="#000" stroke-width="18.6" stroke-linecap="round"/>
<circle cx="1196.3" cy="1700.68" r="9.3" fill="#000"/>
<circle cx="1455.4" cy="1972.8" r="9.3" fill="#000"/>
<circle cx="1197.96" cy="1870.5" r="9.3" fill="#000"/>
<circle cx="1460.04" cy="2040.32" r="9.3" fill="#000"/>
<circle cx="1193.47" cy="1954.39" r="9.3" fill="#000"/>
<circle cx="1451.9" cy="1972.8" r="9.3" fill="#000"/>
<circle cx="1191.3" cy="1972.8" r="9.3" fill="#000"/>
<circle cx="1193.83" cy="2011.67" r="9.3" fill="#000"/>
<circle cx="1466.9" cy="1972.8" r="9.3" fill="#000"/>
<circle cx="1192.97" cy="2128.3" r="9.3" fill="#000"/>
<circle cx="1460.9" cy="1972.8" r="9.3" fill="#000"/>
<circle cx="1193.73" cy="2054.64" r="9.3" fill="#000"/>
<circle cx="1455.05" cy="2054.64" r="9.3" fill="#000"/>
<circle cx="1195.68" cy="2078.17" r="9.3" fill="#000"/>
<circle cx="1450.9" cy="2095.56" r="9.3" fill="#000"/>
<circle cx="1201.3" cy="1972.8" r="9.3" fill="#000"/>
<circle cx="1191.93" cy="2015.77" r="9.3" fill="#000"/>
<circle cx="1445.9" cy="2109.88" r="9.3" fill="#000"/>
<circle cx="1193.12" cy="2030.09" r="9.3" fill="#000"/>
<circle cx="1456.9" cy="2075.1" r="9.3" fill="#000"/>
<circle cx="1199.09" cy="2034.18" r="9.3" fill="#000"/>
<circle cx="1462.9" cy="2095.56" r="9.3" fill="#000"/>
<circle cx="1199.24" cy="2038.27" r="9.3" fill="#000"/>
<circle cx="1456.9" cy="2107.84" r="9.3" fill="#000"/>
<circle cx="1200.34" cy="2042.36" r="9.3" fill="#000"/>
<circle cx="1198.94" cy="2060.78" r="9.3" fill="#000"/>
<circle cx="1454.71" cy="2148.76" r="9.3" fill="#000"/>
<circle cx="1190.3" cy="2103.74" r="9.3" fill="#000"/>
<circle cx="1202.3" cy="2105.79" r="9.3" fill="#000"/>
<circle cx="1459.2" cy="2148.76" r="9.3" fill="#000"/>
<circle cx="1196.88" cy="2116.02" r="9.3" fill="#000"/>
<circle cx="1195.67" cy="2122.16" r="9.3" fill="#000"/>
<circle cx="1195.08" cy="2136.48" r="9.3" fill="#000"/>
<circle cx="1465.9" cy="2075.1" r="9.3" fill="#000"/>
<circle cx="1194.62" cy="2142.62" r="9.3" fill="#000"/>
<circle cx="1192.86" cy="2148.76" r="9.3" fill="#000"/>
<circle cx="1465.9" cy="2109.88" r="9.3" fill="#000"/>
<circle cx="1198.98" cy="2152.85" r="9.3" fill="#000"/>
<circle cx="1200.67" cy="2156.94" r="9.3" fill="#000"/>
<circle cx="1447.9" cy="2075.1" r="9.3" fill="#000"/>
<circle cx="1196.79" cy="2161.03" r="9.3" fill="#000"/>
<circle cx="1198.54" cy="2165.12" r="9.3" fill="#000"/>
<circle cx="1453.61" cy="2109.88" r="9.3" fill="#000"/>
<circle cx="1197.89" cy="2169.22" r="9.3" fill="#000"/>
<circle cx="1456.39" cy="2095.56" r="9.3" fill="#000"/>
<circle cx="1193.39" cy="2173.31" r="9.3" fill="#000"/>
<circle cx="1459.9" cy="2075.1" r="9.3" fill="#000"/>
<circle cx="1196.5" cy="2146.71" r="9.3" fill="#000"/>
<circle cx="1194.08" cy="2132.39" r="9.3" fill="#000"/>
<circle cx="1456.54" cy="2109.88" r="9.3" fill="#000"/>
<circle cx="1197.25" cy="2156.94" r="9.3" fill="#000"/>
<circle cx="1195.36" cy="2167.17" r="9.3" fill="#000"/>
<circle cx="1192.98" cy="2140.57" r="9.3" fill="#000"/>
<circle cx="1196.22" cy="2126.25" r="9.3" fill="#000"/>
<line x1="1024.7" y1="2177.4" x2="1040.5" y2="2177.4" stroke="#333333" stroke-width="5.4" stroke-linecap="butt"/>
<text x="1012.2" y="2196.7" font-size="53.2" text-anchor="end" fill="#000" stroke="#000">1</text>
<line x1="1024.7" y1="1972.8" x2="1040.5" y2="1972.8" stroke="#333333" stroke-width="5.4" stroke-linecap="butt"/>
<text x="1012.2" y="1992.1" font-size="53.2" text-anchor="end" fill="#000" stroke="#000">2</text>
<line x1="1024.7" y1="1768.2" x2="1040.5" y2="1768.2" stroke="#333333" stroke-width="5.4" stroke-linecap="butt"/>
<text x="1012.2" y="1787.5" font-size="53.2" text-anchor="end" fill="#000" stroke="#000">3</text>
<line x1="1196.3" y1="2200.8" x2="1196.3" y2="2216.6" stroke="#333333" stroke-width="5.4" stroke-linecap="butt"/>
<line x1="1456.9" y1="2200.8" x2="1456.9" y2="2216.6" stroke="#333333" stroke-width="5.4" stroke-linecap="butt"/>
<line x1="1040.5" y1="1629.4" x2="1040.5" y2="2200.8" stroke="#000" stroke-width="5.3" stroke-linecap="butt"/>
<line x1="1040.5" y1="2200.8" x2="1612" y2="2200.8" stroke="#000" stroke-width="5.3" stroke-linecap="butt"/>
<text x="1188.9" y="2268.6" font-size="53.2" text-anchor="middle" fill="#000" stroke="#000">Healthy</text>
<text x="1203.7" y="2325.9" font-size="53.2" text-anchor="middle" fill="#000" stroke="#000">(4.5)</text>
<text x="1449.5" y="2268.6" font-size="53.2" text-anchor="middle" fill="#000" stroke="#000">UC</text>
<text x="1464.3" y="2325.9" font-size="53.2" text-anchor="middle" fill="#000" stroke="#000">(3.5)</text>
<text x="1344.6" y="1701.3" font-size="58.5" text-anchor="middle" fill="#000" stroke="#000">ns</text>
<text transform="translate(955,1916.8) rotate(-90) scale(0.965,1)" x="0" y="0" font-size="60.5" font-style="italic" text-anchor="middle" fill="#000" stroke="#000">SR<tspan font-size="33.93" dx="-3" dy="18.6">j</tspan></text>
</svg>
</body></html>
